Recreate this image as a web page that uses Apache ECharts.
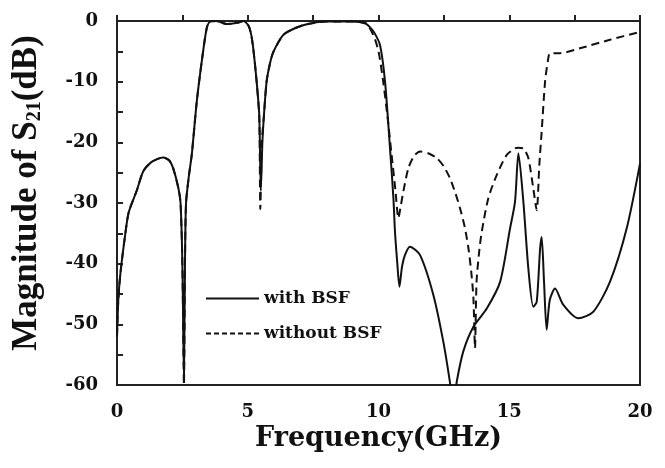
<!DOCTYPE html>
<html>
<head>
<meta charset="utf-8">
<script src="https://cdn.jsdelivr.net/npm/echarts@6/dist/echarts.min.js"></script>
<style>
  html, body { margin: 0; padding: 0; background: #fff; }
  #chart { width: 665px; height: 468px; }
</style>
</head>
<body>
<div id="chart"></div>
<script>
// with BSF (solid)
const withFreq = [0, 0.05, 0.13, 0.32, 0.45, 0.76, 1.0, 1.3, 1.64, 1.77, 2.0, 2.15, 2.35, 2.43, 2.5, 2.56, 2.6, 2.64, 2.75, 2.86, 3.05, 3.24, 3.43, 3.56, 3.8, 4.19, 4.6, 4.83, 5.02, 5.12, 5.21, 5.34, 5.44, 5.5, 5.56, 5.62, 5.72, 5.85, 5.98, 6.36, 6.8, 7.3, 8.0, 9.0, 9.5, 9.67, 9.85, 10.06, 10.25, 10.44, 10.57, 10.63, 10.72, 10.8, 10.9, 11.01, 11.2, 11.59, 12.1, 12.48, 12.73, 12.8, 12.92, 12.99, 13.24, 13.63, 14.14, 14.65, 15.03, 15.22, 15.35, 15.54, 15.73, 15.92, 16.05, 16.18, 16.24, 16.33, 16.43, 16.55, 16.75, 17.07, 17.64, 18.22, 18.85, 19.49, 20]
const withDb = [-52, -46, -41.6, -35, -31.5, -27.9, -24.8, -23.3, -22.6, -22.5, -23, -24.3, -27.6, -30, -40, -59, -40, -30, -25.5, -22, -13.3, -6.7, -1.2, -0.1, 0, -0.5, -0.3, 0, -0.7, -2, -4.5, -10, -15.5, -28, -20, -15.5, -10, -7, -5.1, -2.3, -1.2, -0.5, -0.1, -0.1, -0.4, -1.0, -2.0, -4.0, -10, -21, -29.2, -34.7, -40, -43.8, -40.5, -38.6, -37.2, -38.6, -45.2, -52.9, -59.5, -62, -62, -59.5, -54.5, -50.4, -47.4, -43, -34.2, -29.8, -21.8, -29.8, -40.8, -47.1, -46.3, -37.5, -35.6, -43, -50.9, -46, -44.1, -46.8, -49, -47.9, -43, -34.2, -23.5]

// without BSF (dashed)
const withoutFreq = [0, 0.05, 0.13, 0.32, 0.45, 0.76, 1.0, 1.3, 1.64, 1.77, 2.0, 2.15, 2.35, 2.43, 2.5, 2.56, 2.6, 2.64, 2.75, 2.86, 3.05, 3.24, 3.43, 3.56, 3.8, 4.19, 4.6, 4.83, 5.02, 5.12, 5.21, 5.34, 5.44, 5.48, 5.54, 5.62, 5.72, 5.85, 5.98, 6.36, 6.8, 7.3, 8.0, 9.0, 9.5, 9.8, 10.0, 10.18, 10.35, 10.5, 10.65, 10.76, 10.85, 10.95, 11.14, 11.35, 11.59, 11.9, 12.23, 12.5, 12.73, 12.95, 13.12, 13.3, 13.44, 13.55, 13.63, 13.69, 13.75, 13.85, 13.95, 14.2, 14.52, 14.9, 15.22, 15.35, 15.54, 15.73, 15.92, 16.05, 16.15, 16.24, 16.37, 16.48, 16.56, 16.94, 17.7, 18.85, 20]
const withoutDb = [-52, -46, -41.6, -35, -31.5, -27.9, -24.8, -23.3, -22.6, -22.5, -23, -24.3, -27.6, -30, -40, -60, -40, -30, -25.5, -22, -13.3, -6.7, -1.2, -0.1, 0, -0.5, -0.3, 0, -0.7, -2, -4.5, -10, -16, -31, -20, -15.5, -10, -7, -5.1, -2.3, -1.2, -0.5, -0.1, -0.1, -0.3, -2.3, -5, -10, -16, -22, -28, -32.5, -30.5, -28.1, -24.3, -22.3, -21.5, -21.8, -22.6, -24, -25.9, -28.5, -30.9, -34, -37.5, -41.5, -45.7, -53.9, -43, -38, -34.7, -29.2, -25.4, -22.1, -21, -20.9, -21, -22.6, -27.6, -31.2, -23.7, -18.2, -10, -6.5, -5.3, -5.3, -4.5, -3.1, -1.8]

const font = 'DejaVu Serif'
const titleFont = 'Liberation Serif'

function pairs(xs, ys) {
    return xs.map((x, i) => [x, ys[i]])
}

const chart = echarts.init(document.getElementById('chart'))
chart.setOption({
    animation: false,
    backgroundColor: '#fff',
    grid: {
        left: 117, right: 25, top: 21, bottom: 83,
        show: true, borderColor: '#222', borderWidth: 2
    },
    legend: {
        orient: 'vertical',
        left: 200, top: 285,
        itemWidth: 53, itemHeight: 14, itemGap: 18,
        itemStyle: { opacity: 0 },
        textStyle: { fontFamily: font, fontWeight: 'bold', fontSize: 17, color: '#111' },
        data: [
            { name: 'with BSF' },
            { name: 'without BSF', lineStyle: { type: [5, 3] } }
        ]
    },
    xAxis: {
        type: 'value',
        min: 0, max: 20, interval: 2.5,
        name: 'Frequency(GHz)',
        nameLocation: 'middle',
        nameGap: 40,
        nameTextStyle: { fontFamily: font, fontWeight: 'bold', fontSize: 27, color: '#111' },
        axisLine: { lineStyle: { color: '#222', width: 2 } },
        axisTick: { inside: true, length: 6, lineStyle: { color: '#222', width: 2 } },
        axisLabel: {
            margin: 18,
            fontFamily: font, fontWeight: 'bold', fontSize: 18, color: '#111',
            formatter: v => (v % 5 === 0 ? String(v) : '')
        },
        splitLine: { show: false }
    },
    yAxis: {
        type: 'value',
        min: -60, max: 0, interval: 5,
        name: '{a|Magnitude of S}{s|21}{a|(dB)}',
        nameLocation: 'middle',
        nameRotate: 90,
        nameGap: 72,
        nameTextStyle: {
            padding: [0, 0, 0, 20],
            rich: {
                a: { fontFamily: titleFont, fontWeight: 'bold', fontSize: 35, color: '#111' },
                s: { fontFamily: titleFont, fontWeight: 'bold', fontSize: 20, color: '#111', padding: [16, 0, 0, 0] }
            }
        },
        axisLine: { lineStyle: { color: '#222', width: 2 } },
        axisTick: { inside: true, length: 6, lineStyle: { color: '#222', width: 2 } },
        axisLabel: {
            margin: 19,
            fontFamily: font, fontWeight: 'bold', fontSize: 18, color: '#111',
            formatter: v => (v % 10 === 0 ? String(v) : '')
        },
        splitLine: { show: false }
    },
    series: [
        {
            name: 'with BSF',
            type: 'line',
            showSymbol: false,
            symbol: 'none',
            smooth: 0.25,
            clip: true,
            itemStyle: { color: '#111' },
            lineStyle: { color: '#111', width: 2 },
            data: pairs(withFreq, withDb)
        },
        {
            name: 'without BSF',
            type: 'line',
            showSymbol: false,
            symbol: 'none',
            smooth: 0.25,
            clip: true,
            itemStyle: { color: '#111' },
            lineStyle: { color: '#111', width: 2, type: [8, 5] },
            data: pairs(withoutFreq, withoutDb)
        }
    ]
})
</script>
</body>
</html>
